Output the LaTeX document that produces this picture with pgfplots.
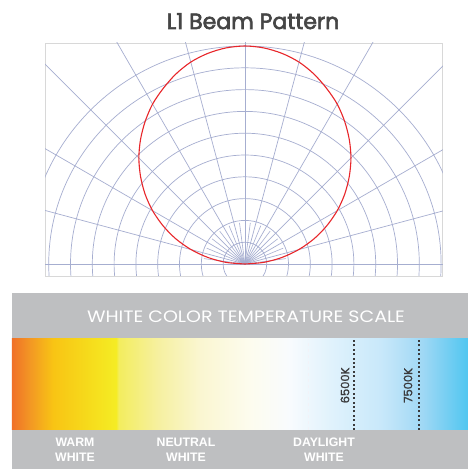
\documentclass[border=0pt]{standalone}
\usepackage{pgfplots}
\pgfplotsset{compat=1.18}
\usepackage{fontspec}
\setmainfont{Liberation Sans}
\newfontfamily\pop{Poppins}
\newfontfamily\popm[FakeBold=1.4]{Poppins}
\newfontfamily\popt[FakeBold=2.8]{Poppins}

\definecolor{gridc}{HTML}{A6AED0}
\definecolor{beam}{HTML}{E8262A}
\definecolor{framec}{HTML}{D8D8D8}
\definecolor{bandgray}{HTML}{BEBFC1}
\definecolor{titlec}{HTML}{454545}
\definecolor{markc}{HTML}{3A3A3C}

% stops: 25bp = left edge of bar, 75bp = right edge
\pgfdeclarehorizontalshading{ctemp}{100bp}{
  color(0bp)=(rgb,255:red,240;green,112;blue,40);
  color(25bp)=(rgb,255:red,240;green,112;blue,40);
  color(27bp)=(rgb,255:red,243;green,152;blue,36);
  color(29.5bp)=(rgb,255:red,248;green,196;blue,20);
  color(33.5bp)=(rgb,255:red,246;green,220;blue,28);
  color(36.4bp)=(rgb,255:red,245;green,236;blue,36);
  color(36.7bp)=(rgb,255:red,243;green,237;blue,94);
  color(41bp)=(rgb,255:red,246;green,240;blue,160);
  color(45.5bp)=(rgb,255:red,250;green,246;blue,208);
  color(51bp)=(rgb,255:red,253;green,252;blue,238);
  color(55.5bp)=(rgb,255:red,248;green,251;blue,254);
  color(60bp)=(rgb,255:red,224;green,242;blue,252);
  color(65.5bp)=(rgb,255:red,200;green,232;blue,250);
  color(70bp)=(rgb,255:red,160;green,216;blue,245);
  color(75bp)=(rgb,255:red,80;green,198;blue,240);
  color(100bp)=(rgb,255:red,80;green,198;blue,240)}

\begin{document}
\begin{tikzpicture}[x=1pt,y=1pt]
\path[use as bounding box, fill=white] (0,0) rectangle (468,469);

% title
\node[anchor=base, text=titlec, font=\popt\fontsize{22}{26}\selectfont] at (253,440) {L1 Beam Pattern};

% beam pattern panel
\begin{axis}[
  at={(45pt,193pt)}, anchor=south west,
  x=21.8pt, y=21.8pt,
  xmin=-9.17, xmax=9.08, ymin=-0.55, ymax=10.14,
  xtick=\empty, ytick=\empty,
  axis line style={draw=framec, line width=0.8pt},
]
\pgfplotsinvokeforeach{1,...,10}{
  \draw[gridc, line width=0.7pt] (axis cs:0,0) circle[radius=#1];
}
\pgfplotsinvokeforeach{0,15,...,180}{
  \addplot[gridc, line width=0.7pt, no marks, data cs=polar] coordinates {(#1,0) (#1,16)};
}
\pgfplotsinvokeforeach{7.5,22.5,...,172.5}{
  \addplot[gridc, line width=0.6pt, no marks, data cs=polar] coordinates {(#1,0) (#1,1.9)};
}
\addplot[gridc, line width=0.9pt, no marks] coordinates {(-10,0) (10,0)};
% measured beam (angle from horizontal, relative intensity)
\addplot[beam, line width=1.1pt, smooth, no marks, data cs=polar] coordinates {
  (0,0) (5,0.87) (10,1.72) (15,2.56) (20,3.37) (25,4.14) (30,4.89)
  (35,5.59) (40,6.25) (45,6.88) (50,7.45) (55,7.98) (60,8.47)
  (65,8.88) (70,9.27) (75,9.59) (80,9.81) (85,9.95) (90,10.0)
  (95,9.95) (100,9.81) (105,9.59) (110,9.27) (115,8.88) (120,8.47)
  (125,7.98) (130,7.45) (135,6.88) (140,6.25) (145,5.59) (150,4.89)
  (155,4.14) (160,3.37) (165,2.56) (170,1.72) (175,0.87) (180,0)
};
\end{axis}

% colour temperature scale
\fill[bandgray] (12,0) rectangle (468,176);
\node[anchor=base, text=white, xscale=1.15, font=\pop\fontsize{16.5}{19}\selectfont] at (246,146) {WHITE COLOR TEMPERATURE SCALE};

\begin{axis}[
  at={(12pt,39pt)}, anchor=south west,
  width=456pt, height=91pt, scale only axis,
  xmin=1240, xmax=8250, ymin=0, ymax=1,
  hide axis, clip=false,
]
\shade[shading=ctemp] (axis cs:1240,0) rectangle (axis cs:8250,1);
\addplot[white!85!gridc, line width=0.5pt, dashed, no marks] coordinates {(5790,0) (5790,1)};
\addplot[markc, line width=1.6pt, dash pattern=on 2pt off 2.4pt, no marks] coordinates {(6500,0) (6500,1)};
\addplot[markc, line width=1.6pt, dash pattern=on 2pt off 2.4pt, no marks] coordinates {(7500,0) (7500,1)};
\node[rotate=90, text=markc, font=\popm\fontsize{11.5}{13}\selectfont] at (axis cs:6359,0.49) {6500K};
\node[rotate=90, text=markc, font=\popm\fontsize{11.5}{13}\selectfont] at (axis cs:7328,0.49) {7500K};
\end{axis}

\begin{scope}[every node/.style={anchor=base, text=white, font=\bfseries\fontsize{12.3}{14}\selectfont}]
\node at (75,23) {WARM};   \node at (75,7.3) {WHITE};
\node at (186,23) {NEUTRAL}; \node at (186,7.3) {WHITE};
\node at (324,23) {DAYLIGHT}; \node at (324,7.3) {WHITE};
\end{scope}
\end{tikzpicture}
\end{document}
